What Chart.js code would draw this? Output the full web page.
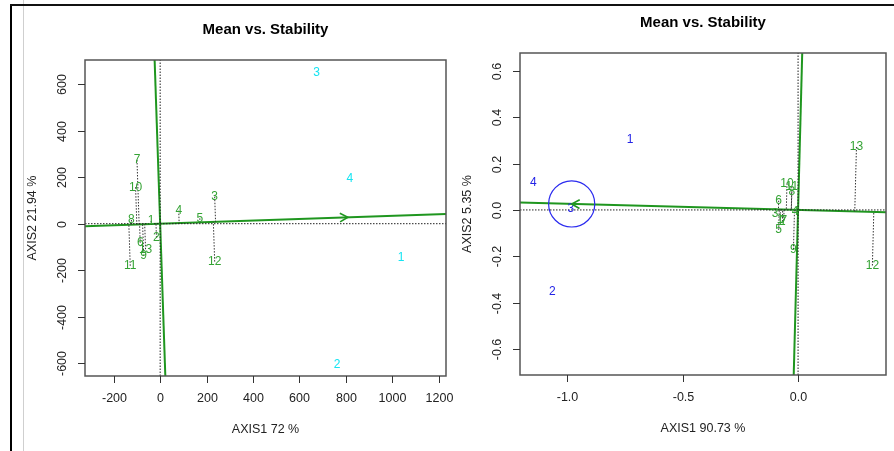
<!DOCTYPE html>
<html>
<head>
<meta charset="utf-8">
<script src="https://cdn.jsdelivr.net/npm/chart.js@4.4.0/dist/chart.umd.min.js"></script>
<style>
  body { margin: 0; background: #fff; width: 894px; height: 451px; overflow: hidden; position: relative; }
  canvas { position: absolute; top: 0; }
  .ln { position: absolute; }
</style>
</head>
<body>
<div class="ln" style="left:23px;top:0;width:1px;height:451px;background:#cfcfcf"></div>
<div class="ln" style="left:10px;top:5px;width:2px;height:446px;background:#000"></div>
<div class="ln" style="left:10px;top:4px;width:884px;height:2px;background:#111"></div>
<canvas id="left" width="470" height="451" style="left:0"></canvas>
<canvas id="right" width="444" height="451" style="left:450px"></canvas>
<script>
// labels
var genoLabels = ['1', '2', '3', '4', '5', '6', '7', '8', '9', '10', '11', '12', '13'];
var envLabels = ['1', '2', '3', '4'];

// left biplot (AXIS1 72 %, AXIS2 21.94 %)
var genoLeftX = [-39, -16, 235, 80, 171, -86, -100, -124, -71, -106, -129, 235, -63];
var genoLeftY = [12, -60, 116, 56, 23, -82, 274, 16, -139, 157, -181, -163, -110];
var envLeftX = [1038, 763, 674, 817];
var envLeftY = [-145, -608, 649, 192];
var aeaLeft = [809, 27.5];
var xTicksLeft = [-200, 0, 200, 400, 600, 800, 1000, 1200];
var yTicksLeft = [-600, -400, -200, 0, 200, 400, 600];
var xRangeLeft = [-324, 1232];
var yRangeLeft = [-655, 704];

// right biplot (AXIS1 90.73 %, AXIS2 5.35 %)
var genoRightX = [-0.078, -0.068, -0.1, -0.013, -0.084, -0.084, -0.062, -0.027, -0.02, -0.048, -0.027, 0.322, 0.253];
var genoRightY = [-0.042, -0.05, -0.014, -0.007, -0.086, 0.04, -0.045, 0.08, -0.17, 0.115, 0.1, -0.24, 0.272];
var envRightX = [-0.728, -1.065, -0.985, -1.147];
var envRightY = [0.305, -0.353, 0.004, 0.117];
var aeaRight = [-0.981, 0.026];
var circleRight = 0.1;
var xTicksRight = [-1.0, -0.5, 0.0];
var yTicksRight = [-0.6, -0.4, -0.2, 0.0, 0.2, 0.4, 0.6];
var xRangeRight = [-1.205, 0.381];
var yRangeRight = [-0.713, 0.678];

var FONT = '"Liberation Sans", Arial, sans-serif';
var GREEN_LINE = '#1f961f';
var GREEN_TEXT = '#34a334';

function pts(xs, ys) {
    return xs.map(function (x, i) { return { x: x, y: ys[i] }; });
}

function lineSet(data, color, width, dash) {
    return { data: data, showLine: true, borderColor: color, borderWidth: width,
             borderDash: dash || [], pointRadius: 0, fill: false };
}

var biplotPlugin = {
    id: 'biplot',
    afterDatasetsDraw: function (chart) {
        var o = chart.options.plugins.biplot;
        var ctx = chart.ctx;
        var a = chart.chartArea;
        var xs = chart.scales.x, ys = chart.scales.y;
        ctx.save();

        // text labels
        chart.data.datasets.forEach(function (ds, i) {
            if (!ds.textLabels) return;
            var meta = chart.getDatasetMeta(i);
            ctx.fillStyle = ds.textColor;
            ctx.font = '12px ' + FONT;
            ctx.textAlign = 'center';
            ctx.textBaseline = 'middle';
            meta.data.forEach(function (el, j) {
                ctx.fillText(ds.textLabels[j], el.x, el.y);
            });
        });

        // arrow head at the average environment
        var ox = xs.getPixelForValue(0), oy = ys.getPixelForValue(0);
        var px = xs.getPixelForValue(o.aea[0]), py = ys.getPixelForValue(o.aea[1]);
        var ang = Math.atan2(py - oy, px - ox);
        ctx.strokeStyle = GREEN_LINE;
        ctx.lineWidth = 1.6;
        ctx.beginPath();
        ctx.moveTo(px - 9 * Math.cos(ang - 0.5), py - 9 * Math.sin(ang - 0.5));
        ctx.lineTo(px, py);
        ctx.lineTo(px - 9 * Math.cos(ang + 0.5), py - 9 * Math.sin(ang + 0.5));
        ctx.stroke();

        if (o.circle) {
            var r = xs.getPixelForValue(o.circle) - ox;
            ctx.strokeStyle = '#2b2bef';
            ctx.lineWidth = 1.2;
            ctx.beginPath();
            ctx.arc(px, py, r, 0, Math.PI * 2);
            ctx.stroke();
        }

        // box
        ctx.strokeStyle = '#555';
        ctx.lineWidth = 1.5;
        ctx.strokeRect(a.left, a.top, a.right - a.left, a.bottom - a.top);

        // ticks
        ctx.strokeStyle = '#333';
        ctx.lineWidth = 1;
        ctx.fillStyle = '#222';
        ctx.font = '12.5px ' + FONT;
        ctx.textAlign = 'center';
        ctx.textBaseline = 'middle';
        o.xTicks.forEach(function (v) {
            var x = Math.round(xs.getPixelForValue(v)) + 0.5;
            ctx.beginPath();
            ctx.moveTo(x, a.bottom);
            ctx.lineTo(x, a.bottom + 7);
            ctx.stroke();
            ctx.fillText(v.toFixed(o.dec), x, a.bottom + 23);
        });
        o.yTicks.forEach(function (v) {
            var y = Math.round(ys.getPixelForValue(v)) + 0.5;
            ctx.beginPath();
            ctx.moveTo(a.left, y);
            ctx.lineTo(a.left - 7, y);
            ctx.stroke();
            ctx.save();
            ctx.translate(a.left - 22, y);
            ctx.rotate(-Math.PI / 2);
            ctx.fillText(v.toFixed(o.dec), 0, 0);
            ctx.restore();
        });

        // axis titles
        var cx = (a.left + a.right) / 2;
        ctx.fillText(o.xTitle, cx, a.bottom + 54);
        ctx.save();
        ctx.translate(a.left - 52, (a.top + a.bottom) / 2);
        ctx.rotate(-Math.PI / 2);
        ctx.fillText(o.yTitle, 0, 0);
        ctx.restore();

        // main title
        ctx.fillStyle = '#000';
        ctx.font = 'bold 15px ' + FONT;
        ctx.fillText('Mean vs. Stability', cx, a.top - 30);
        ctx.restore();
    }
};

function makeBiplot(id, p) {
    var ax = p.aea[0], ay = p.aea[1];
    var slope = ay / ax;
    var datasets = [];

    // dotted reference lines at zero
    datasets.push(lineSet([{ x: p.xr[0], y: 0 }, { x: p.xr[1], y: 0 }], '#222', 1, [1.5, 1.5]));
    datasets.push(lineSet([{ x: 0, y: p.yr[0] }, { x: 0, y: p.yr[1] }], '#222', 1, [1.5, 1.5]));

    // projections of genotypes on the average environment axis
    var len2 = ax * ax + ay * ay;
    p.gx.forEach(function (gx, i) {
        var gy = p.gy[i];
        var t = (gx * ax + gy * ay) / len2;
        datasets.push(lineSet([{ x: gx, y: gy }, { x: t * ax, y: t * ay }], '#333', 1, [1.5, 1.5]));
    });

    // average environment axis and its perpendicular
    datasets.push(lineSet([{ x: p.xr[0], y: p.xr[0] * slope }, { x: p.xr[1], y: p.xr[1] * slope }], GREEN_LINE, 2));
    datasets.push(lineSet([{ x: -slope * p.yr[0], y: p.yr[0] }, { x: -slope * p.yr[1], y: p.yr[1] }], GREEN_LINE, 2));

    datasets.push({ data: pts(p.gx, p.gy), pointRadius: 0, textLabels: genoLabels, textColor: GREEN_TEXT });
    datasets.push({ data: pts(p.ex, p.ey), pointRadius: 0, textLabels: envLabels, textColor: p.envColor });

    new Chart(document.getElementById(id), {
        type: 'scatter',
        data: { datasets: datasets },
        options: {
            responsive: false,
            animation: false,
            events: [],
            layout: { padding: p.pad },
            scales: {
                x: { type: 'linear', display: false, min: p.xr[0], max: p.xr[1] },
                y: { type: 'linear', display: false, min: p.yr[0], max: p.yr[1] }
            },
            plugins: {
                legend: { display: false },
                tooltip: { enabled: false },
                biplot: { aea: p.aea, circle: p.circle, xTicks: p.xt, yTicks: p.yt, dec: p.dec,
                          xTitle: p.xTitle, yTitle: p.yTitle }
            }
        },
        plugins: [biplotPlugin]
    });
}

makeBiplot('left', {
    gx: genoLeftX, gy: genoLeftY, ex: envLeftX, ey: envLeftY, envColor: '#14e4f2',
    aea: aeaLeft, circle: 0, xt: xTicksLeft, yt: yTicksLeft, dec: 0,
    xr: xRangeLeft, yr: yRangeLeft,
    xTitle: 'AXIS1 72 %', yTitle: 'AXIS2 21.94 %',
    pad: { left: 85, right: 24, top: 60, bottom: 75 }
});

makeBiplot('right', {
    gx: genoRightX, gy: genoRightY, ex: envRightX, ey: envRightY, envColor: '#2424e6',
    aea: aeaRight, circle: circleRight, xt: xTicksRight, yt: yTicksRight, dec: 1,
    xr: xRangeRight, yr: yRangeRight,
    xTitle: 'AXIS1 90.73 %', yTitle: 'AXIS2 5.35 %',
    pad: { left: 70, right: 8, top: 53, bottom: 76 }
});
</script>
</body>
</html>
